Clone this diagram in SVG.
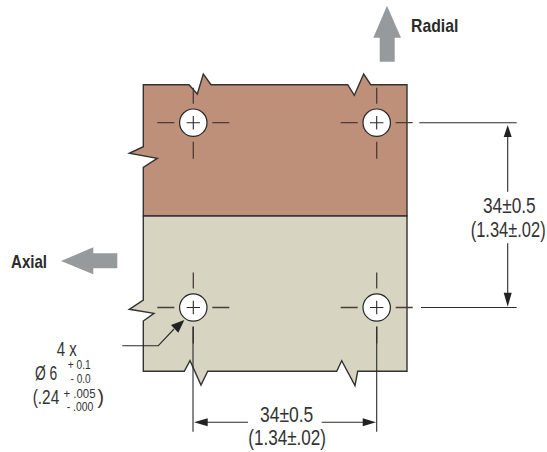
<svg xmlns="http://www.w3.org/2000/svg" width="547" height="452" viewBox="0 0 547 452">
<defs>
<style>
.plate{stroke:#333;stroke-width:1.4;stroke-linejoin:miter}
.l{fill:none;stroke:#2b2b2b;stroke-width:1.1}
.c{fill:none;stroke:#4a3c38;stroke-width:1.3}
.hole{fill:#fff;stroke:#262626;stroke-width:1.2}
.ah{fill:#222;stroke:none}
.big{fill:#979a9d;stroke:none}
text{font-family:"Liberation Sans",sans-serif;fill:#333;font-size:22.5px}
.b{font-weight:bold;font-size:19px;fill:#2b2b2b}
.m{font-size:19.5px}
.s{font-size:12px}
</style>
<g id="tick">
<path class="c" d="M-36 0H-19M19 0H36M0 -35V-19M0 19V36"/>
<circle class="hole" r="13.7"/>
<path class="l" d="M-6.7 0H6.7M0 -6.7V6.7"/>
</g>
</defs>
<g id="plate-radial">
<path class="plate" fill="#be8f79" d="M143.3 216V167.3L157.3 158.3L129.3 153.3L143.3 146.7V84.7H189L197.3 94L203.3 74L211 84.7H347.7L354.3 95.3L363.7 74L370.7 84.7H407V216Z"/>
</g>
<g id="plate-axial">
<path class="plate" fill="#d7d5c1" d="M143.3 216V300L129.3 309.3L154 313.3L143.3 321V371.3H184.3L190 360.7L201 385L207.7 371.3H336.7L341.7 360.7L355 385.7L357.7 371.3H407V216Z"/>
</g>
<g id="hole-top-left"><use href="#tick" x="193.3" y="122.7"/></g>
<g id="hole-top-right"><use href="#tick" x="376.7" y="122.7"/></g>
<g id="hole-bottom-left"><use href="#tick" x="193.3" y="307.5"/></g>
<g id="hole-bottom-right"><use href="#tick" x="376.7" y="307.5"/></g>
<g id="arrow-radial"><path class="big" d="M387 5.7L401 37.7H394.7V61.7H379.7V37.7H373.3Z"/><text class="b" x="411" y="31.7" textLength="47.3" lengthAdjust="spacingAndGlyphs">Radial</text></g>
<g id="arrow-axial"><path class="big" d="M61 261L93.3 247.3V253.3H117.3V268.3H93.3V274.3Z"/><text class="b" x="11" y="268.3" textLength="36" lengthAdjust="spacingAndGlyphs">Axial</text></g>
<g id="connectors">
<path class="l" d="M419.3 122.7H516.7M421 307.5H516.7"/>
<path class="l" d="M507.7 135V191.7M507.7 243.3V294"/>
<path class="ah" d="M507.7 125L511.7 137H503.7ZM507.7 306.7L503.7 292.7H511.7Z"/>
<path class="l" d="M193 326.7V431.7M376.7 326.7V431.7"/>
<path class="l" d="M206 422.3H248M321.7 422.3H364"/>
<path class="ah" d="M194 422.3L207.7 418.3V426.3ZM376 422.3L362.7 418.3V426.3Z"/>
<path class="l" d="M122.3 345.7H158.3L174 329"/>
<path class="ah" d="M184.3 320L171 325L178.3 332.7Z"/>
</g>
<g id="labels">
<text transform="translate(483 212.5) scale(.768 1)">34±0.5</text>
<text transform="translate(470.7 236.7) scale(.732 1)">(1.34±.02)</text>
<text transform="translate(260 421.7) scale(.777 1)">34±0.5</text>
<text transform="translate(248.3 445) scale(.759 1)">(1.34±.02)</text>
<text class="m" x="56.7" y="356" textLength="20" lengthAdjust="spacingAndGlyphs">4 x</text>
<text class="m" x="35" y="380" textLength="22.3" lengthAdjust="spacingAndGlyphs">Ø 6</text>
<text class="s" x="67.7" y="369.3" textLength="23" lengthAdjust="spacingAndGlyphs">+ 0.1</text>
<text class="s" x="70.5" y="382.7" textLength="20.2" lengthAdjust="spacingAndGlyphs">- 0.0</text>
<text class="m" x="32.7" y="404" textLength="26.6" lengthAdjust="spacingAndGlyphs">(.24</text>
<text class="s" x="63.5" y="397.7" textLength="32" lengthAdjust="spacingAndGlyphs">+ .005</text>
<text class="m" x="97.5" y="404">)</text>
<text class="s" x="66.7" y="410.7" textLength="26.6" lengthAdjust="spacingAndGlyphs">- .000</text>
</g>
</svg>
